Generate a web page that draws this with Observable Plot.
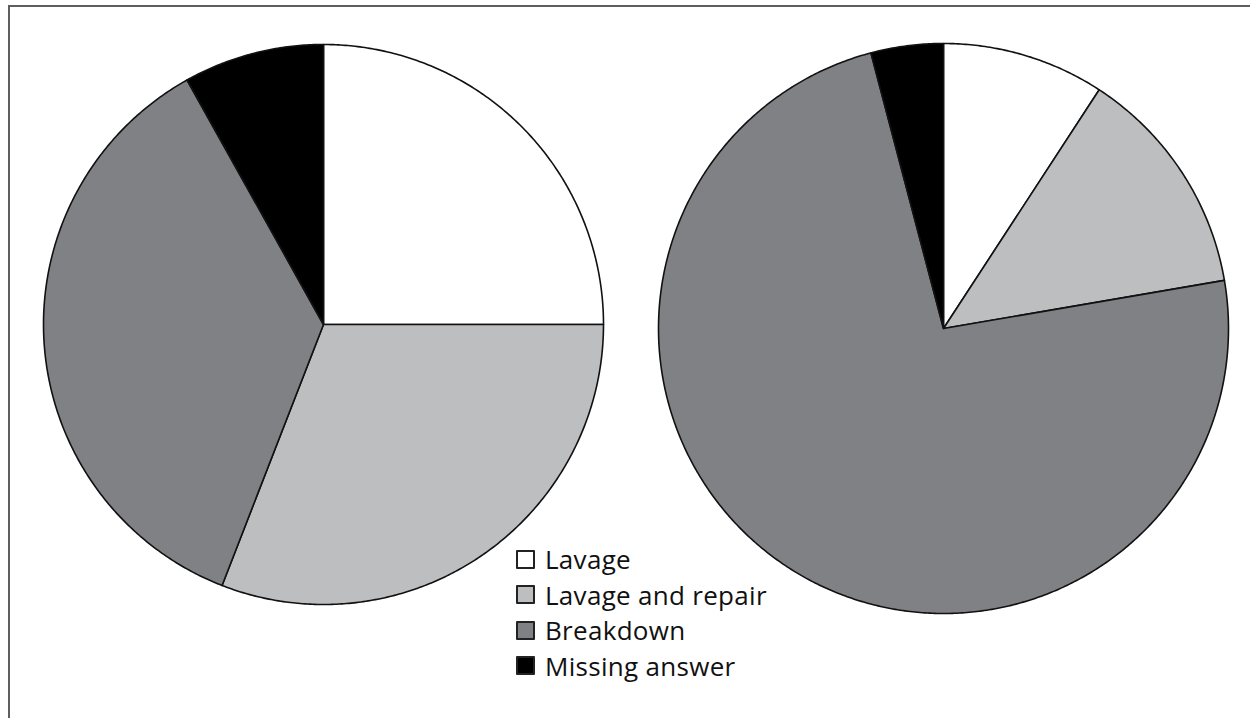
<!DOCTYPE html>
<html>
<head>
<meta charset="utf-8">
<script src="https://cdn.jsdelivr.net/npm/d3@7"></script>
<script src="https://cdn.jsdelivr.net/npm/@observablehq/plot@0.6"></script>
<style>
  html, body { margin: 0; padding: 0; background: #fff; }
  #wrap { position: relative; width: 1250px; height: 718px; overflow: hidden; }
  #frame { position: absolute; left: 8px; top: 5px; width: 1300px; height: 800px;
           border-top: 2px solid #5e5e5e; border-left: 2px solid #5e5e5e; box-sizing: border-box; pointer-events: none; }
  #legend { position: absolute; left: 516px; top: 0; font-family: "Open Sans", sans-serif; font-size: 26px; letter-spacing: 0.3px; color: #111; }
  .item { position: absolute; left: 0; white-space: nowrap; display: flex; align-items: center; }
  .sw { width: 15px; height: 15px; border: 2px solid #222; border-radius: 1px; margin-right: 10px; }
</style>
</head>
<body>
<div id="wrap"><div id="frame"></div><div id="chart"></div><div id="legend"></div></div>
<script>
// ---- data ----
const categories = ["Lavage", "Lavage and repair", "Breakdown", "Missing answer"];
const leftValues = [25, 30.9, 36, 8.1];
const rightValues = [9.2, 13.1, 73.6, 4.1];
const colors = ["#ffffff", "#bdbec0", "#808185", "#000000"];

// ---- layout ----
const pies = [
  {name: "left", values: leftValues, cx: 323, cy: 324, r: 280},
  {name: "right", values: rightValues, cx: 943, cy: 328, r: 285}
];

const rows = [];
for (const p of pies) {
  const total = d3.sum(p.values);
  let acc = 0;
  p.values.forEach((v, i) => {
    const a0 = acc / total * 2 * Math.PI;
    acc += v;
    const a1 = acc / total * 2 * Math.PI;
    const id = p.name + "-" + i;
    rows.push({id, cat: categories[i], x: p.cx, y: p.cy});
    const n = Math.max(2, Math.ceil((a1 - a0) / (Math.PI / 360)));
    for (let k = 0; k <= n; k++) {
      const a = a0 + (a1 - a0) * k / n;
      rows.push({id, cat: categories[i], x: p.cx + p.r * Math.sin(a), y: p.cy - p.r * Math.cos(a)});
    }
  });
}

const chart = Plot.plot({
  width: 1250,
  height: 718,
  margin: 0,
  x: {domain: [0, 1250], range: [0, 1250], axis: null},
  y: {domain: [0, 718], range: [0, 718], axis: null},
  color: {domain: categories, range: colors},
  marks: [
    Plot.line(rows, {x: "x", y: "y", z: "id", fill: "cat", stroke: "#111", strokeWidth: 1.6,
      curve: "linear-closed", strokeLinejoin: "round"})
  ]
});
document.getElementById("chart").appendChild(chart);

const legend = document.getElementById("legend");
categories.forEach((c, i) => {
  const it = document.createElement("div");
  it.className = "item";
  it.style.top = (541 + i * 35.5) + "px";
  const sw = document.createElement("div");
  sw.className = "sw";
  sw.style.background = colors[i];
  const t = document.createElement("span");
  t.textContent = c;
  it.appendChild(sw); it.appendChild(t);
  legend.appendChild(it);
});
</script>
</body>
</html>
